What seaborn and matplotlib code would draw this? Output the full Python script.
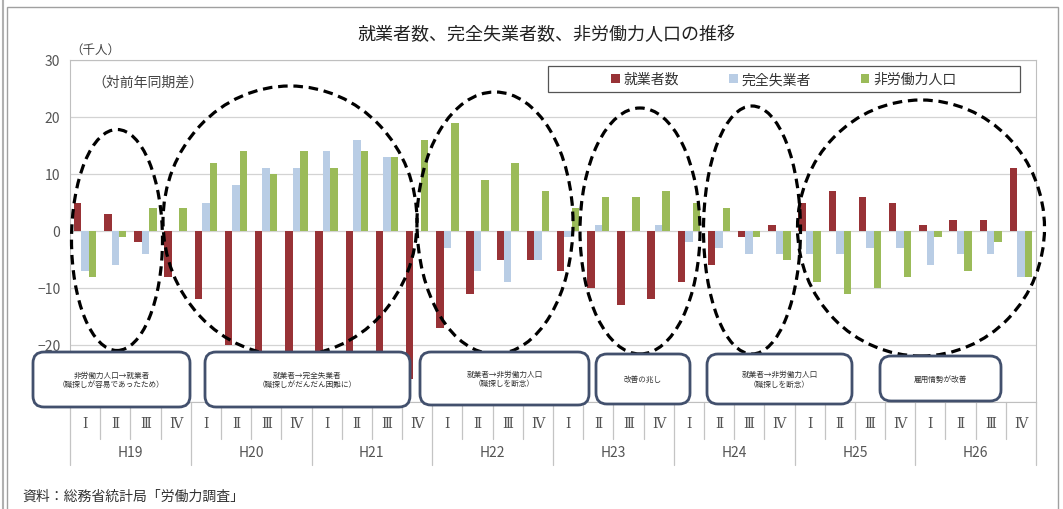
import numpy as np
import pandas as pd
import matplotlib
matplotlib.use("Agg")
import matplotlib.pyplot as plt
import seaborn as sns
from matplotlib.patches import Ellipse, FancyBboxPatch, Rectangle, Patch
from matplotlib.transforms import blended_transform_factory

# ---- data (thousand persons, change from same quarter of previous year) ----
years = ["H19", "H20", "H21", "H22", "H23", "H24", "H25", "H26"]
quarters = ["Ⅰ", "Ⅱ", "Ⅲ", "Ⅳ"]
series_names = ["就業者数", "完全失業者", "非労働力人口"]

employed = [5, 3, -2, -8,
            -12, -20, -22, -24,
            -23, -25, -22, -26,
            -17, -11, -5, -5,
            -7, -10, -13, -12,
            -9, -6, -1, 1,
            5, 7, 6, 5,
            1, 2, 2, 11]
unemployed = [-7, -6, -4, 0,
              5, 8, 11, 11,
              14, 16, 13, 0,
              -3, -7, -9, -5,
              -1, 1, 0, 1,
              -2, -3, -4, -4,
              -4, -4, -3, -3,
              -6, -4, -4, -8]
not_in_labour_force = [-8, -1, 4, 4,
                       12, 14, 10, 14,
                       11, 14, 13, 16,
                       19, 9, 12, 7,
                       4, 6, 6, 7,
                       5, 4, -1, -5,
                       -9, -11, -10, -8,
                       -1, -7, -2, -8]

bar_colors = ["#983236", "#b9cde5", "#9bbb59"]

# annotation boxes: (x0, y0, x1, y1) in pixels from top-left, text
notes = [
    ((33, 353, 190, 408), "非労働力人口→就業者\n（職探しが容易であったため）"),
    ((205, 353, 410, 408), "就業者→完全失業者\n（職探しがだんだん困難に）"),
    ((420, 353, 589, 406), "就業者→非労働力人口\n（職探しを断念）"),
    ((596, 355, 690, 405), "改善の兆し"),
    ((707, 355, 852, 405), "就業者→非労働力人口\n（職探しを断念）"),
    ((880, 357, 1001, 402), "雇用情勢が改善"),
]
# dashed ellipses: (cx, cy, w, h) in pixels from top-left
rings = [
    (117, 241, 91, 221),
    (290, 222, 254, 270),
    (495, 224, 156, 262),
    (640, 232, 120, 246),
    (752, 231, 97, 248),
    (921, 229, 247, 256),
]

periods = [f"{y}-{q}" for y in years for q in quarters]
df = pd.DataFrame({
    "period": periods * 3,
    "series": np.repeat(series_names, len(periods)),
    "value": employed + unemployed + not_in_labour_force,
})

sns.set_style("white")
plt.rcParams["font.family"] = ["Noto Sans CJK JP", "DejaVu Sans"]

W, H = 1063, 510
fig = plt.figure(figsize=(W / 100, H / 100), dpi=100)
fig.patch.set_facecolor("white")

AX_L, AX_R, AX_T, AX_B = 70, 1036, 61, 403
ax = fig.add_axes([AX_L / W, 1 - AX_B / H, (AX_R - AX_L) / W, (AX_B - AX_T) / H])

sns.barplot(data=df, x="period", y="value", hue="series", order=periods,
            hue_order=series_names, palette=bar_colors, saturation=1,
            width=0.74, errorbar=None, legend=False, linewidth=0, ax=ax)

ax.set_xlim(-0.5, len(periods) - 0.5)
ax.set_ylim(-30, 30)
ax.set_yticks(range(-30, 31, 10))
ax.yaxis.grid(True, color="#d3d3d3", lw=0.9)
ax.set_axisbelow(True)
ax.set_xlabel("")
ax.set_ylabel("")
ax.set_xticks(range(len(periods)))
ax.set_xticklabels(quarters * len(years), fontsize=10, color="#555555",
                   family=["DejaVu Serif", "Noto Sans CJK JP"])
ax.tick_params(axis="x", length=0, pad=10)
ax.tick_params(axis="y", length=4, color="#bdbdbd", width=0.8,
               labelsize=10, labelcolor="#555555", pad=3)
for sp in ax.spines.values():
    sp.set_color("#bfbfbf")
    sp.set_linewidth(0.8)

# category separators below the axis
trans = blended_transform_factory(ax.transData, ax.transAxes)
q_bottom = (AX_B - 440) / (AX_B - AX_T)
y_bottom = (AX_B - 466) / (AX_B - AX_T)
for k in range(len(periods) + 1):
    bottom = y_bottom if k % 4 == 0 else q_bottom
    ax.plot([k - 0.5, k - 0.5], [0, bottom], color="#c4c4c4", lw=0.9,
            transform=trans, clip_on=False)
year_y = (AX_B - 453) / (AX_B - AX_T)
for i, yr in enumerate(years):
    ax.text(4 * i + 1.5, year_y, yr, transform=trans, ha="center", va="center",
            fontsize=10, color="#555555")

# legend
handles = [Patch(facecolor=c, edgecolor="none") for c in bar_colors]
fig.legend(handles, series_names, loc="center",
           bbox_to_anchor=(784 / W, 1 - 80 / H), ncol=3, frameon=False,
           handlelength=0.6, handleheight=0.6, handletextpad=0.3,
           columnspacing=3.6, fontsize=10, labelcolor="#333333")
fig.add_artist(Rectangle((548 / 100, (H - 93) / 100), 472 / 100, 26 / 100,
                         transform=fig.dpi_scale_trans, fill=False,
                         ec="#555555", lw=0.9, zorder=3))

# titles and notes
fig.text(546 / W, 1 - 35 / H, "就業者数、完全失業者数、非労働力人口の推移",
         ha="center", va="center", fontsize=13, color="#222222")
fig.text(70 / W, 1 - 50 / H, "（千人）", ha="left", va="center",
         fontsize=9, color="#444444")
fig.text(92 / W, 1 - 83 / H, "（対前年同期差）", ha="left", va="center",
         fontsize=10, color="#444444")
fig.text(22 / W, 1 - 497 / H, "資料：総務省統計局「労働力調査」", ha="left",
         va="center", fontsize=10, color="#333333")

# dashed rings around periods
for cx, cy, w, h in rings:
    fig.add_artist(Ellipse((cx / 100, (H - cy) / 100), w / 100, h / 100,
                           transform=fig.dpi_scale_trans, fill=False,
                           ec="black", lw=2.3, ls=(0, (3, 1.8)), zorder=4))

# rounded note boxes
for (x0, y0, x1, y1), txt in notes:
    fig.add_artist(FancyBboxPatch((x0 / 100, (H - y1) / 100),
                                  (x1 - x0) / 100, (y1 - y0) / 100,
                                  boxstyle="round,pad=0,rounding_size=0.11",
                                  transform=fig.dpi_scale_trans,
                                  fc="white", ec="#42506d", lw=2.0, zorder=5))
    fig.text((x0 + x1) / 2 / W, 1 - (y0 + y1) / 2 / H, txt, ha="center",
             va="center", fontsize=5.5, color="#333333", linespacing=1.3,
             zorder=6)

# outer frame
fig.add_artist(Rectangle((7 / 100, -0.05), (1058 - 7) / 100, (H - 8) / 100 + 0.05,
                         transform=fig.dpi_scale_trans, fill=False,
                         ec="#a0a0a0", lw=1.0, zorder=7))
fig.add_artist(Rectangle((2 / 100, -0.05), 0.01, (H + 10) / 100,
                         transform=fig.dpi_scale_trans, fill=False,
                         ec="#b0b0b0", lw=0.8, zorder=7))

fig.savefig("out.png", dpi=100)
